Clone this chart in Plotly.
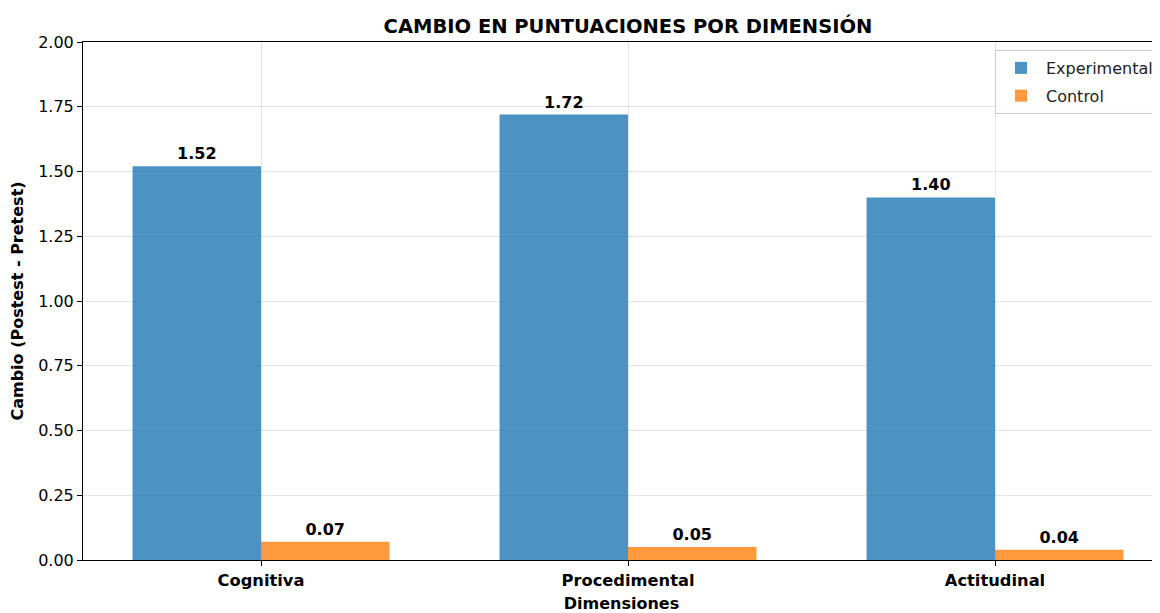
import plotly.graph_objects as go

categories = ["Cognitiva", "Procedimental", "Actitudinal"]
experimental = [1.52, 1.72, 1.40]
control = [0.07, 0.05, 0.04]
y_ticks = [0, 0.25, 0.5, 0.75, 1.0, 1.25, 1.5, 1.75, 2.0]
y_tick_labels = ["0.00", "0.25", "0.50", "0.75", "1.00", "1.25", "1.50", "1.75", "2.00"]

FONT = "DejaVu Sans"
# page body has an 8px margin; compensate so the plot area lands at 83..1160 x 42..562
OFF = 8
W, H = 1160 - OFF, 613 - OFF
L, R, T, B = 83 - OFF, 0, 42 - OFF, 51
xs = list(range(len(categories)))
bw = 0.35

fig = go.Figure()
fig.add_trace(go.Bar(
    x=[x - bw / 2 for x in xs], y=experimental, width=bw, name="Experimental",
    legendgroup="exp",
    marker=dict(color="rgba(31,119,180,0.8)", line=dict(width=0)),
    text=[f"{v:.2f}" for v in experimental], textposition="outside",
    textfont=dict(family=FONT, size=16, color="black", weight="bold"),
    cliponaxis=False,
))
fig.add_trace(go.Bar(
    x=[x + bw / 2 for x in xs], y=control, width=bw, name="Control",
    legendgroup="ctl",
    marker=dict(color="rgba(255,127,14,0.8)", line=dict(width=0)),
    text=[f"{v:.2f}" for v in control], textposition="outside",
    textfont=dict(family=FONT, size=16, color="black", weight="bold"),
    cliponaxis=False,
))

pw = W - L - R  # 1077 px plot width
fig.update_layout(
    width=W, height=H,
    margin=dict(l=L, r=R, t=T, b=B, pad=0),
    paper_bgcolor="white", plot_bgcolor="white",
    font=dict(family=FONT, size=16, color="black"),
    barmode="overlay",
    showlegend=True,
    title=dict(text="<b>CAMBIO EN PUNTUACIONES POR DIMENSIÓN</b>",
               x=(628 - 83) / pw, xref="paper", xanchor="center",
               y=1 - (26 - OFF) / H, yanchor="middle",
               font=dict(family=FONT, size=19.5, color="black")),
    legend=dict(x=(995 - 83) / pw, xanchor="left", y=(562 - 50) / 520, yanchor="top",
                bgcolor="rgba(255,255,255,0.8)", bordercolor="#cccccc", borderwidth=1,
                font=dict(family=FONT, size=16, color="#222222"),
                tracegroupgap=4, itemwidth=40),
    xaxis=dict(
        range=[-0.485, -0.485 + 2.97 * pw / 1090],
        tickmode="array", tickvals=xs, ticktext=[f"<b>{c}</b>" for c in categories],
        tickfont=dict(family=FONT, size=16.3, color="black"),
        showline=True, linecolor="black", linewidth=1, mirror=True,
        ticks="outside", ticklen=5, tickcolor="black",
        showgrid=True, gridcolor="rgba(0,0,0,0.1)", gridwidth=1,
        zeroline=False,
        title=dict(text="<b>Dimensiones</b>", font=dict(family=FONT, size=16), standoff=12),
    ),
    yaxis=dict(
        range=[0, 2.0],
        tickmode="array", tickvals=y_ticks, ticktext=y_tick_labels,
        tickfont=dict(family=FONT, size=16, color="black"),
        showline=True, linecolor="black", linewidth=1,
        ticks="outside", ticklen=5, tickcolor="black",
        showgrid=True, gridcolor="rgba(0,0,0,0.1)", gridwidth=1,
        zeroline=False,
        title=dict(text="<b>Cambio (Postest - Pretest)</b>", font=dict(family=FONT, size=16), standoff=10),
    ),
)

fig.write_html("out.html")
